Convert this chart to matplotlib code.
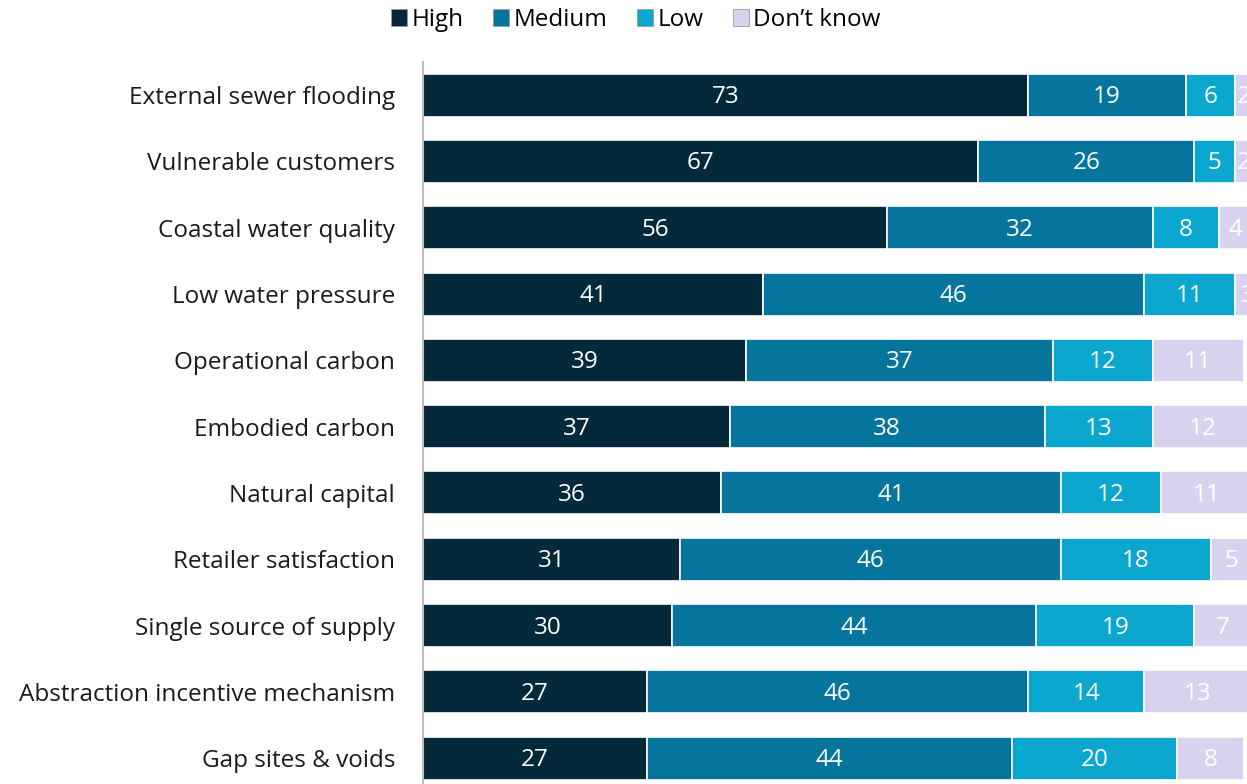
import numpy as np
import matplotlib.pyplot as plt
from matplotlib.patches import Patch

categories = ["External sewer flooding", "Vulnerable customers", "Coastal water quality",
              "Low water pressure", "Operational carbon", "Embodied carbon",
              "Natural capital", "Retailer satisfaction", "Single source of supply",
              "Abstraction incentive mechanism", "Gap sites & voids"]
high = [73, 67, 56, 41, 39, 37, 36, 31, 30, 27, 27]
medium = [19, 26, 32, 46, 37, 38, 41, 46, 44, 46, 44]
low = [6, 5, 8, 11, 12, 13, 12, 18, 19, 14, 20]
dont_know = [2, 2, 4, 3, 11, 12, 11, 5, 7, 13, 8]

series = ["High", "Medium", "Low", "Don\u2019t know"]
colors = ["#03293a", "#05759d", "#0ba7cf", "#d8d2ef"]

plt.rcParams['font.family'] = ['Open Sans', 'DejaVu Sans']
fs = 17.5

fig = plt.figure(figsize=(12.47, 7.84), dpi=100)
ax = fig.add_axes([423 / 1247, 0, 1 - 423 / 1247, 1 - 62 / 784])

y = np.arange(len(categories))
left = np.zeros(len(categories))
for name, vals, col in zip(series, [high, medium, low, dont_know], colors):
    vals = np.array(vals)
    ax.barh(y, vals, left=left, height=0.65, color=col, edgecolor="white", linewidth=1.2)
    for yi, (l, v) in enumerate(zip(left, vals)):
        ax.text(l + v / 2, yi + 0.03, str(v), ha="center", va="center",
                color="white", fontsize=fs, clip_on=True)
    left += vals

ax.set_xlim(0, (1247 - 423) / 8.29)
ax.set_ylim(10.39, -0.5)
ax.set_yticks(y)
ax.set_yticklabels(categories, fontsize=fs, color="#1a1a1a")
ax.tick_params(axis="y", length=0, pad=20)
ax.set_xticks([])
for s in ["top", "right", "bottom"]:
    ax.spines[s].set_visible(False)
ax.spines["left"].set_color("#bfbfbf")
ax.spines["left"].set_linewidth(1.5)

handles = [Patch(facecolor=c, edgecolor="#9a9a9a", linewidth=0.6) for c in colors]
fig.legend(handles, series, loc="center", bbox_to_anchor=(636 / 1247, 1 - 20 / 784),
           ncol=4, frameon=False, fontsize=fs, handlelength=0.65, handleheight=0.65,
           handletextpad=0.2, columnspacing=1.2)

fig.savefig("out.png", dpi=100)
